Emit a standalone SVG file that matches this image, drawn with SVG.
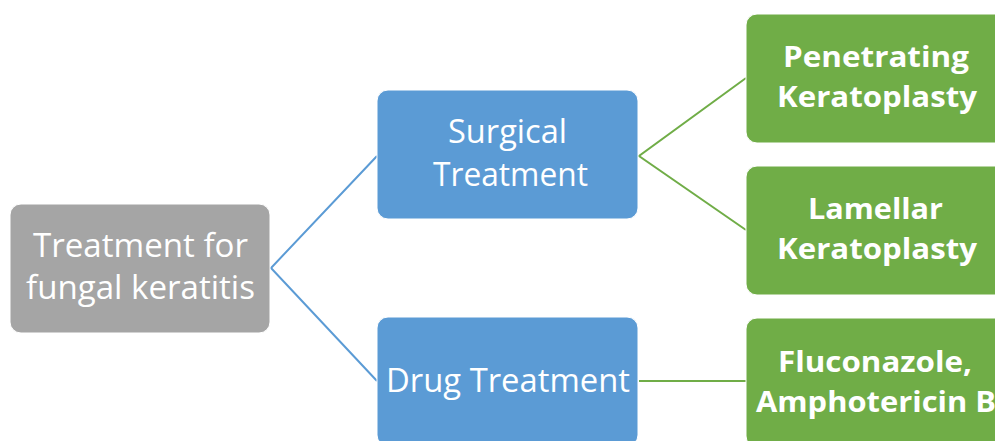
<svg xmlns="http://www.w3.org/2000/svg" width="995" height="441" viewBox="0 0 995 441">
  <style>
    .box { stroke: #ffffff; stroke-width: 1; }
    .root { fill: #a5a5a5; }
    .mid { fill: #5b9bd5; }
    .leaf { fill: #70ad47; }
    .lbl { font-family: "Open Sans", "Liberation Sans", sans-serif; fill: #ffffff; font-size: 32px; }
    .lblb { font-family: "Open Sans", "Liberation Sans", sans-serif; fill: #ffffff; font-size: 29px; font-weight: bold; }
    .link-blue { stroke: #5b9bd5; stroke-width: 2; fill: none; }
    .link-green { stroke: #70ad47; stroke-width: 2; fill: none; }
  </style>
  <rect width="995" height="441" fill="#ffffff"/>

  <g id="connectors">
    <polyline class="link-blue" points="377,156 271,268 377,381"/>
    <polyline class="link-green" points="746,78 639,156 746,230"/>
    <line class="link-green" x1="639" y1="381" x2="746" y2="381"/>
  </g>

  <g id="node-root">
    <rect class="box root" x="10" y="204" width="260" height="129" rx="11"/>
    <text class="lbl" x="33" y="257" textLength="215" lengthAdjust="spacingAndGlyphs">Treatment for</text>
    <text class="lbl" x="26" y="299" textLength="229" lengthAdjust="spacingAndGlyphs">fungal keratitis</text>
  </g>

  <g id="node-surgical">
    <rect class="box mid" x="377" y="90" width="261" height="129" rx="11"/>
    <text class="lbl" x="448" y="143" textLength="119" lengthAdjust="spacingAndGlyphs">Surgical</text>
    <text class="lbl" x="433" y="186" textLength="155" lengthAdjust="spacingAndGlyphs">Treatment</text>
  </g>

  <g id="node-drug">
    <rect class="box mid" x="377" y="317" width="261" height="129" rx="11"/>
    <text class="lbl" x="386" y="392" textLength="244" lengthAdjust="spacingAndGlyphs">Drug Treatment</text>
  </g>

  <g id="node-penetrating">
    <rect class="box leaf" x="746" y="14" width="261" height="129" rx="11"/>
    <text class="lblb" x="783" y="67" textLength="186" lengthAdjust="spacingAndGlyphs">Penetrating</text>
    <text class="lblb" x="777" y="107" textLength="200" lengthAdjust="spacingAndGlyphs">Keratoplasty</text>
  </g>

  <g id="node-lamellar">
    <rect class="box leaf" x="746" y="166" width="261" height="129" rx="11"/>
    <text class="lblb" x="808" y="219" textLength="135" lengthAdjust="spacingAndGlyphs">Lamellar</text>
    <text class="lblb" x="777" y="259" textLength="200" lengthAdjust="spacingAndGlyphs">Keratoplasty</text>
  </g>

  <g id="node-antifungal">
    <rect class="box leaf" x="746" y="318" width="261" height="129" rx="11"/>
    <text class="lblb" x="778" y="372" textLength="194" lengthAdjust="spacingAndGlyphs">Fluconazole,</text>
    <text class="lblb" x="756" y="412" textLength="240" lengthAdjust="spacingAndGlyphs">Amphotericin B</text>
  </g>
</svg>
